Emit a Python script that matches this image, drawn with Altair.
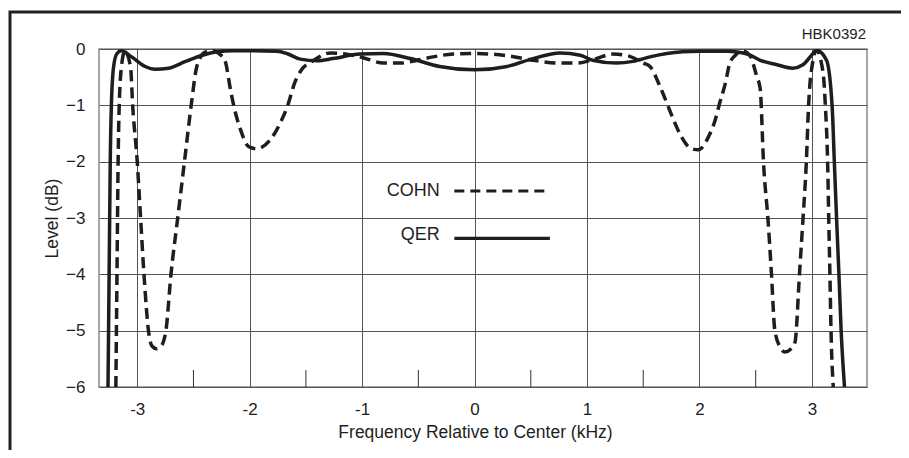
import altair as alt
import pandas as pd

# ---- data ----
qer_f = [-3.26, -3.25, -3.24, -3.23, -3.21, -3.18, -3.14, -3.05, -2.93, -2.84, -2.72, -2.57,
         -2.42, -2.29, -2.14, -2.00, -1.76, -1.67, -1.55, -1.40, -1.26, -1.02, -0.81, -0.57,
         -0.31, 0.00, 0.29, 0.52, 0.76, 0.94, 1.05, 1.26, 1.41, 1.56, 1.71, 1.85, 2.00, 2.25,
         2.39, 2.45, 2.54, 2.69, 2.83, 2.92, 3.01, 3.04, 3.13, 3.18, 3.20, 3.22, 3.24, 3.26, 3.29]
qer_db = [-6.0, -4.0, -2.0, -1.0, -0.31, -0.08, -0.03, -0.14, -0.31, -0.36, -0.34, -0.22,
          -0.11, -0.05, -0.03, -0.03, -0.04, -0.08, -0.18, -0.21, -0.17, -0.09, -0.08, -0.17,
          -0.31, -0.37, -0.31, -0.17, -0.07, -0.11, -0.20, -0.25, -0.22, -0.14, -0.08, -0.05, -0.04, -0.04,
          -0.07, -0.11, -0.20, -0.28, -0.34, -0.28, -0.08, -0.02, -0.20, -1.02, -2.03, -3.04, -3.98, -5.0, -6.0]

cohn_f = [-3.19, -3.18, -3.17, -3.16, -3.14, -3.11, -3.06, -3.04, -3.00, -2.97, -2.94, -2.90,
          -2.87, -2.83, -2.79, -2.745, -2.70, -2.64, -2.58, -2.52, -2.47, -2.40, -2.33, -2.26,
          -2.22, -2.17, -2.14, -2.08, -2.01, -1.94, -1.82, -1.73, -1.66, -1.60, -1.55, -1.43,
          -1.28, -1.15, -1.00, -0.81, -0.66, -0.51, -0.37, -0.19, 0.00, 0.14, 0.29, 0.52, 0.76,
          0.91, 1.08, 1.23, 1.38, 1.50, 1.56, 1.65, 1.71, 1.77, 1.84, 1.92, 1.99, 2.08, 2.14,
          2.18, 2.23, 2.27, 2.32, 2.38, 2.45, 2.51, 2.54, 2.57, 2.61, 2.64, 2.67, 2.72, 2.76,
          2.81, 2.85, 2.89, 2.92, 2.95, 2.97, 3.01, 3.04, 3.10, 3.12, 3.14, 3.15, 3.16, 3.17, 3.19]
cohn_db = [-6.0, -4.0, -2.0, -1.0, -0.31, -0.04, -0.31, -1.02, -2.0, -3.0, -4.0, -5.0,
           -5.27, -5.32, -5.28, -5.0, -4.0, -3.0, -2.0, -1.0, -0.31, -0.06, -0.03, -0.10,
           -0.20, -0.73, -1.02, -1.44, -1.73, -1.77, -1.62, -1.32, -0.99, -0.60, -0.40, -0.20,
           -0.07, -0.09, -0.15, -0.25, -0.25, -0.20, -0.14, -0.09, -0.08, -0.09, -0.12, -0.20, -0.25,
           -0.25, -0.17, -0.09, -0.13, -0.25, -0.31, -0.67, -0.96, -1.26, -1.56, -1.76, -1.79, -1.56, -1.26,
           -0.96, -0.61, -0.25, -0.11, -0.03, -0.12, -0.49, -0.70, -2.03, -3.04, -3.98, -4.99, -5.30, -5.38,
           -5.33, -5.20, -3.98, -3.04, -2.03, -1.02, -0.20, -0.02, -0.43, -1.02, -2.03, -3.04, -3.98, -5.0, -6.0]

x_ticks = [-3, -2, -1, 0, 1, 2, 3]
y_ticks = [-6, -5, -4, -3, -2, -1, 0]
minor_ticks = [-2.5, -1.5, -0.5, 0.5, 1.5, 2.5]
legend_names = ["COHN", "QER"]
legend_text_y = [-2.52, -3.30]
legend_line_y = [-2.52, -3.36]
legend_text_x = -0.31
legend_line_x = [-0.18, 0.67]
x_title = "Frequency Relative to Center (kHz)"
y_title = "Level (dB)"
code_label = "HBK0392"

W, H = 768, 338
FONT = "Liberation Sans"
INK = "#1e1e1e"

qer = pd.DataFrame({"f": qer_f, "db": qer_db})
cohn = pd.DataFrame({"f": cohn_f, "db": cohn_db})
minor = pd.DataFrame({"f": minor_ticks})
leg = pd.DataFrame({"name": legend_names, "ty": legend_text_y, "ly": legend_line_y,
                    "tx": [legend_text_x] * 2,
                    "x1": [legend_line_x[0]] * 2, "x2": [legend_line_x[1]] * 2})
one = pd.DataFrame({"label": [code_label]})

xs = alt.Scale(domain=[-3.34, 3.49], nice=False, zero=False)
ys = alt.Scale(domain=[-6, 0], nice=False, zero=False)

x_axis = alt.Axis(values=x_ticks, grid=True, gridColor="#555", gridWidth=1, ticks=False, domain=False,
                  labelExpr="datum.value < 0 ? '-' + abs(datum.value) : '' + datum.value",
                  labelFont=FONT, labelFontSize=17, labelColor=INK, labelPadding=14,
                  title=x_title, titleFont=FONT, titleFontSize=17.5, titleFontWeight="normal",
                  titleColor=INK, titleX=376, titleY=50, titleBaseline="alphabetic")
y_axis = alt.Axis(values=y_ticks, grid=True, gridColor="#555", gridWidth=1, ticks=False, domain=False,
                  labelExpr="datum.value < 0 ? '\u2212' + abs(datum.value) : '0'",
                  labelFont=FONT, labelFontSize=17, labelColor=INK, labelPadding=14,
                  title=y_title, titleFont=FONT, titleFontSize=17.5, titleFontWeight="normal",
                  titleColor=INK, titleX=-42, titleY=169, titleBaseline="alphabetic")


def X(field):
    return alt.X(field, scale=xs, axis=x_axis)


def Y(field):
    return alt.Y(field, scale=ys, axis=y_axis)


qer_line = alt.Chart(qer).mark_line(interpolate="monotone", strokeWidth=3.5, color=INK, clip=True).encode(
    x=X("f:Q"), y=Y("db:Q"), order="f:Q",
)
cohn_line = alt.Chart(cohn).mark_line(interpolate="monotone", strokeWidth=3.5, color=INK,
                                      strokeDash=[11, 6], clip=True).encode(
    x=X("f:Q"), y=Y("db:Q"), order="f:Q",
)
minor_rules = alt.Chart(minor).mark_rule(color="#333", strokeWidth=1).encode(
    x=X("f:Q"), y=alt.value(H), y2=alt.value(H - 17),
)
leg_text = alt.Chart(leg).mark_text(align="right", baseline="middle", font=FONT, fontSize=18,
                                    color=INK).encode(
    x=X("tx:Q"), y=Y("ty:Q"), text="name:N",
)
leg_dash = alt.Chart(leg).transform_filter("datum.name == 'COHN'").mark_rule(
    color=INK, strokeWidth=3, strokeDash=[10, 6]).encode(
    x=X("x1:Q"), x2="x2:Q", y=Y("ly:Q"),
)
leg_solid = alt.Chart(leg).transform_filter("datum.name == 'QER'").mark_rule(
    color=INK, strokeWidth=3.2).encode(
    x=X("x1:Q"), x2="x2:Q", y=Y("ly:Q"),
)
code_text = alt.Chart(one).mark_text(align="right", baseline="alphabetic", font=FONT, fontSize=15,
                                     color=INK).encode(
    x=alt.value(767), y=alt.value(-10), text="label:N",
)
frame = alt.Chart(one).mark_rect(fill="white", fillOpacity=0, stroke="#222", strokeWidth=3).encode(
    x=alt.value(-89), x2=alt.value(807), y=alt.value(-37), y2=alt.value(430),
)

chart = alt.layer(
    qer_line, cohn_line, minor_rules, leg_dash, leg_solid, leg_text, code_text, frame
).properties(
    width=W, height=H,
    padding={"left": 91, "top": 41, "right": 34, "bottom": 63},
    autosize=alt.AutoSizeParams(type="none"),
    background="white",
).configure_view(stroke="#888", strokeWidth=1.5)

chart.save("out.html", embed_options={"renderer": "svg", "actions": False})
